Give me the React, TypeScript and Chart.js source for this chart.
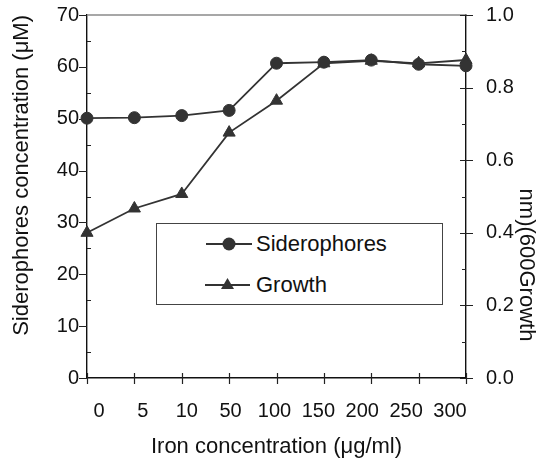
import React, { useEffect, useRef } from 'react';
import { Chart, registerables } from 'chart.js';

Chart.register(...registerables);

// ---- Data ----
const ironLabels: string[] = ['0', '5', '10', '50', '100', '150', '200', '250', '300'];
const siderophores: number[] = [50.1, 50.2, 50.6, 51.6, 60.7, 60.9, 61.3, 60.5, 60.2];
const growth: number[] = [0.40, 0.467, 0.507, 0.676, 0.764, 0.867, 0.874, 0.867, 0.876];

const FONT = '"Liberation Sans", Arial, sans-serif';
const INK = '#333333';
const TEXT = '#111111';

const tickPlugin = {
  id: 'axisTicks',
  beforeDatasetsDraw(chart: any) {
    const { ctx, chartArea, scales } = chart;
    const { left, right, top, bottom } = chartArea;
    ctx.save();
    // top frame line
    ctx.strokeStyle = '#8a8a8a';
    ctx.lineWidth = 1.3;
    ctx.beginPath();
    ctx.moveTo(left, top);
    ctx.lineTo(right, top);
    ctx.stroke();

    ctx.strokeStyle = '#222222';
    ctx.lineWidth = 1.2;
    ctx.beginPath();
    const y = scales.y;
    for (let v = 0; v <= 70; v += 5) {
      const p = Math.round(y.getPixelForValue(v)) + 0.5;
      if (v % 10 === 0) {
        ctx.moveTo(left - 8, p);
        ctx.lineTo(left, p);
      } else {
        ctx.moveTo(left, p);
        ctx.lineTo(left + 4, p);
      }
    }
    const y1 = scales.y1;
    for (let k = 0; k <= 10; k++) {
      const p = Math.round(y1.getPixelForValue(k / 10)) + 0.5;
      if (k % 2 === 0) {
        ctx.moveTo(right - 6, p);
        ctx.lineTo(right + 7, p);
      } else {
        ctx.moveTo(right - 4, p);
        ctx.lineTo(right, p);
      }
    }
    const x = scales.x;
    for (let i = 0; i < ironLabels.length; i++) {
      const p = Math.round(x.getPixelForValue(i)) + 0.5;
      ctx.moveTo(p, bottom - 5);
      ctx.lineTo(p, bottom + 6);
    }
    ctx.stroke();
    ctx.restore();
  },
};

export default function App() {
  const canvasRef = useRef<HTMLCanvasElement | null>(null);

  useEffect(() => {
    const canvas = canvasRef.current;
    if (!canvas) return;
    const chart = new Chart(canvas, {
      type: 'line',
      data: {
        datasets: [
          {
            label: 'Siderophores',
            data: siderophores.map((v, i) => ({ x: i, y: v })),
            yAxisID: 'y',
            xAxisID: 'x',
            borderColor: INK,
            backgroundColor: INK,
            borderWidth: 1.8,
            pointStyle: 'circle',
            pointRadius: 6,
            pointBorderWidth: 1,
            pointBackgroundColor: INK,
            pointBorderColor: INK,
            tension: 0,
            clip: false as any,
          },
          {
            label: 'Growth',
            data: growth.map((v, i) => ({ x: i, y: v })),
            yAxisID: 'y1',
            xAxisID: 'x',
            borderColor: INK,
            backgroundColor: INK,
            borderWidth: 1.8,
            pointStyle: 'triangle',
            pointRadius: 7,
            pointBorderWidth: 1,
            pointBackgroundColor: INK,
            pointBorderColor: INK,
            tension: 0,
            clip: false as any,
          },
        ],
      },
      options: {
        animation: false,
        responsive: true,
        maintainAspectRatio: false,
        layout: { padding: { top: 15, left: 0, right: 0, bottom: 0 } },
        plugins: {
          legend: { display: false },
          tooltip: { enabled: false },
        },
        scales: {
          x: {
            type: 'linear',
            position: 'bottom',
            min: 0,
            max: ironLabels.length - 1,
            afterBuildTicks: (s: any) => {
              s.ticks = ironLabels.map((_, i) => ({ value: 0.2533 + 0.9261 * i }));
            },
            ticks: {
              autoSkip: false,
              maxRotation: 0,
              padding: 21,
              color: TEXT,
              font: { family: FONT, size: 20 },
              callback: (_v: any, i: number) => ironLabels[i],
            },
            grid: { display: false, drawTicks: false },
            border: { display: true, color: '#111111', width: 1.4 },
            title: {
              display: true,
              text: 'Iron concentration (μg/ml)',
              color: TEXT,
              font: { family: FONT, size: 22, lineHeight: 1 },
              padding: { top: 0, bottom: 3 },
            },
            afterFit: (s: any) => {
              s.height = 83;
              s.paddingLeft = 0;
              s.paddingRight = 0;
            },
          },
          y: {
            type: 'linear',
            position: 'left',
            min: 0,
            max: 70,
            ticks: {
              stepSize: 10,
              padding: 8,
              color: TEXT,
              font: { family: FONT, size: 20 },
            },
            grid: { display: false, drawTicks: false },
            border: { display: true, color: '#111111', width: 1.4 },
            title: {
              display: true,
              text: 'Siderophores concentration (μM)',
              align: 'end',
              color: TEXT,
              font: { family: FONT, size: 22 },
              padding: { top: 9, bottom: 0 },
            },
            afterFit: (s: any) => {
              s.width = 87;
              s.paddingTop = 0;
              s.paddingBottom = 0;
            },
          },
          y1: {
            type: 'linear',
            position: 'right',
            min: 0,
            max: 1,
            ticks: {
              stepSize: 0.2,
              padding: 20,
              color: TEXT,
              font: { family: FONT, size: 20 },
              callback: (v: any) => Number(v).toFixed(1),
            },
            grid: { display: false, drawTicks: false },
            border: { display: true, color: '#111111', width: 1.4 },
            afterFit: (s: any) => {
              s.width = 79;
              s.paddingTop = 0;
              s.paddingBottom = 0;
            },
          },
        },
      } as any,
      plugins: [tickPlugin],
    });
    return () => chart.destroy();
  }, []);

  const legendText: React.CSSProperties = {
    position: 'absolute',
    fontFamily: FONT,
    fontSize: 22,
    color: TEXT,
    lineHeight: '26px',
    whiteSpace: 'nowrap',
  };

  return (
    <div
      style={{
        position: 'fixed',
        left: 0,
        top: 0,
        width: 545,
        height: 461,
        background: '#ffffff',
      }}
    >
      <canvas ref={canvasRef} />
      <div
        style={{
          position: 'absolute',
          left: 156,
          top: 223,
          width: 285,
          height: 80,
          border: '1px solid #444',
          background: '#ffffff',
        }}
      />
      <svg
        style={{ position: 'absolute', left: 200, top: 230, overflow: 'visible' }}
        width={60}
        height={70}
      >
        <line x1={6} y1={14} x2={52} y2={14} stroke={INK} strokeWidth={1.8} />
        <circle cx={29} cy={14} r={6.5} fill={INK} />
        <line x1={5} y1={55} x2={50} y2={55} stroke={INK} strokeWidth={1.8} />
        <polygon points="27.5,48 34,59 21,59" fill={INK} />
      </svg>
      <div style={{ ...legendText, left: 256, top: 231 }}>Siderophores</div>
      <div style={{ ...legendText, left: 256, top: 272 }}>Growth</div>
      <div
        style={{
          position: 'absolute',
          left: 427,
          top: 252,
          width: 200,
          height: 26,
          lineHeight: '26px',
          textAlign: 'center',
          fontFamily: FONT,
          fontSize: 22,
          color: TEXT,
          whiteSpace: 'nowrap',
          transform: 'rotate(90deg)',
          transformOrigin: '50% 50%',
        }}
      >
        nm)(600Growth
      </div>
    </div>
  );
}
